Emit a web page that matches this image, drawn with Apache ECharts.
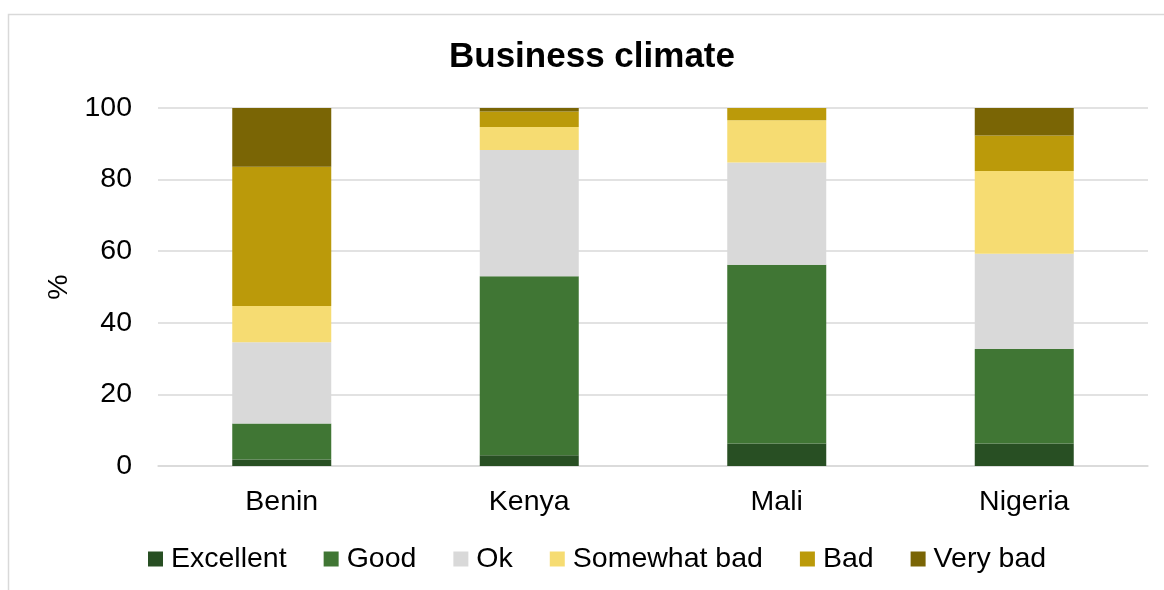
<!DOCTYPE html>
<html><head><meta charset="utf-8">
<script src="https://cdn.jsdelivr.net/npm/echarts@6/dist/echarts.min.js"></script>
<style>html,body{margin:0;padding:0;background:#fff}#c{width:1164px;height:590px}</style>
</head><body><div id="c"></div>
<script>
const categories = ["Benin", "Kenya", "Mali", "Nigeria"];
const excellent = [1.8, 3.0, 6.3, 6.3];
const good = [10.1, 50.0, 49.9, 26.4];
const ok = [22.7, 35.3, 28.6, 26.6];
const somewhatBad = [10.1, 6.4, 11.8, 23.1];
const bad = [38.9, 4.3, 3.4, 9.9];
const veryBad = [16.4, 1.0, 0, 7.7];
const seriesNames = ["Excellent", "Good", "Ok", "Somewhat bad", "Bad", "Very bad"];
const colors = ["#284f23", "#407634", "#d9d9d9", "#f6dc72", "#bb9a0a", "#7a6505"];
const values = [excellent, good, ok, somewhatBad, bad, veryBad];

const FONT = 'Liberation Sans, Arial';
const chart = echarts.init(document.getElementById('c'), null, {renderer: 'canvas'});
chart.setOption({
  animation: false,
  backgroundColor: '#fff',
  graphic: [{type: 'rect', shape: {x: 8.5, y: 14.5, width: 1200, height: 620}, style: {fill: 'none', stroke: '#d9d9d9', lineWidth: 1.5}, z: -1}],
  title: {text: 'Business climate', left: 449, top: 40, padding: 0, textStyle: {fontFamily: FONT, fontSize: 35, fontWeight: 'bold', color: '#000'}},
  legend: {
    data: seriesNames, top: 544, left: 148, padding: 0, itemWidth: 15, itemHeight: 15, itemGap: 37,
    textStyle: {fontFamily: FONT, fontSize: 28.5, lineHeight: 30, color: '#000', padding: [0,0,0,3]},
    icon: 'rect'
  },
  grid: {left: 158, right: 16, top: 108, bottom: 124},
  xAxis: {
    type: 'category', data: categories,
    axisLine: {lineStyle: {color: '#d9d9d9', width: 1.5}}, axisTick: {show: false},
    axisLabel: {fontFamily: FONT, fontSize: 28.5, color: '#000', margin: 22}
  },
  yAxis: {
    type: 'value', min: 0, max: 100, interval: 20, name: '%', nameLocation: 'middle', nameGap: 83,
    nameTextStyle: {fontFamily: FONT, fontSize: 28.5, color: '#000'},
    axisLine: {show: false}, axisTick: {show: false},
    axisLabel: {fontFamily: FONT, fontSize: 28.5, color: '#000', margin: 26},
    splitLine: {lineStyle: {color: '#d9d9d9', width: 1.5}}
  },
  series: seriesNames.map((n, i) => ({
    name: n, type: 'bar', stack: 'a', data: values[i], barWidth: '40%',
    itemStyle: {color: colors[i]}
  }))
});
</script></body></html>
